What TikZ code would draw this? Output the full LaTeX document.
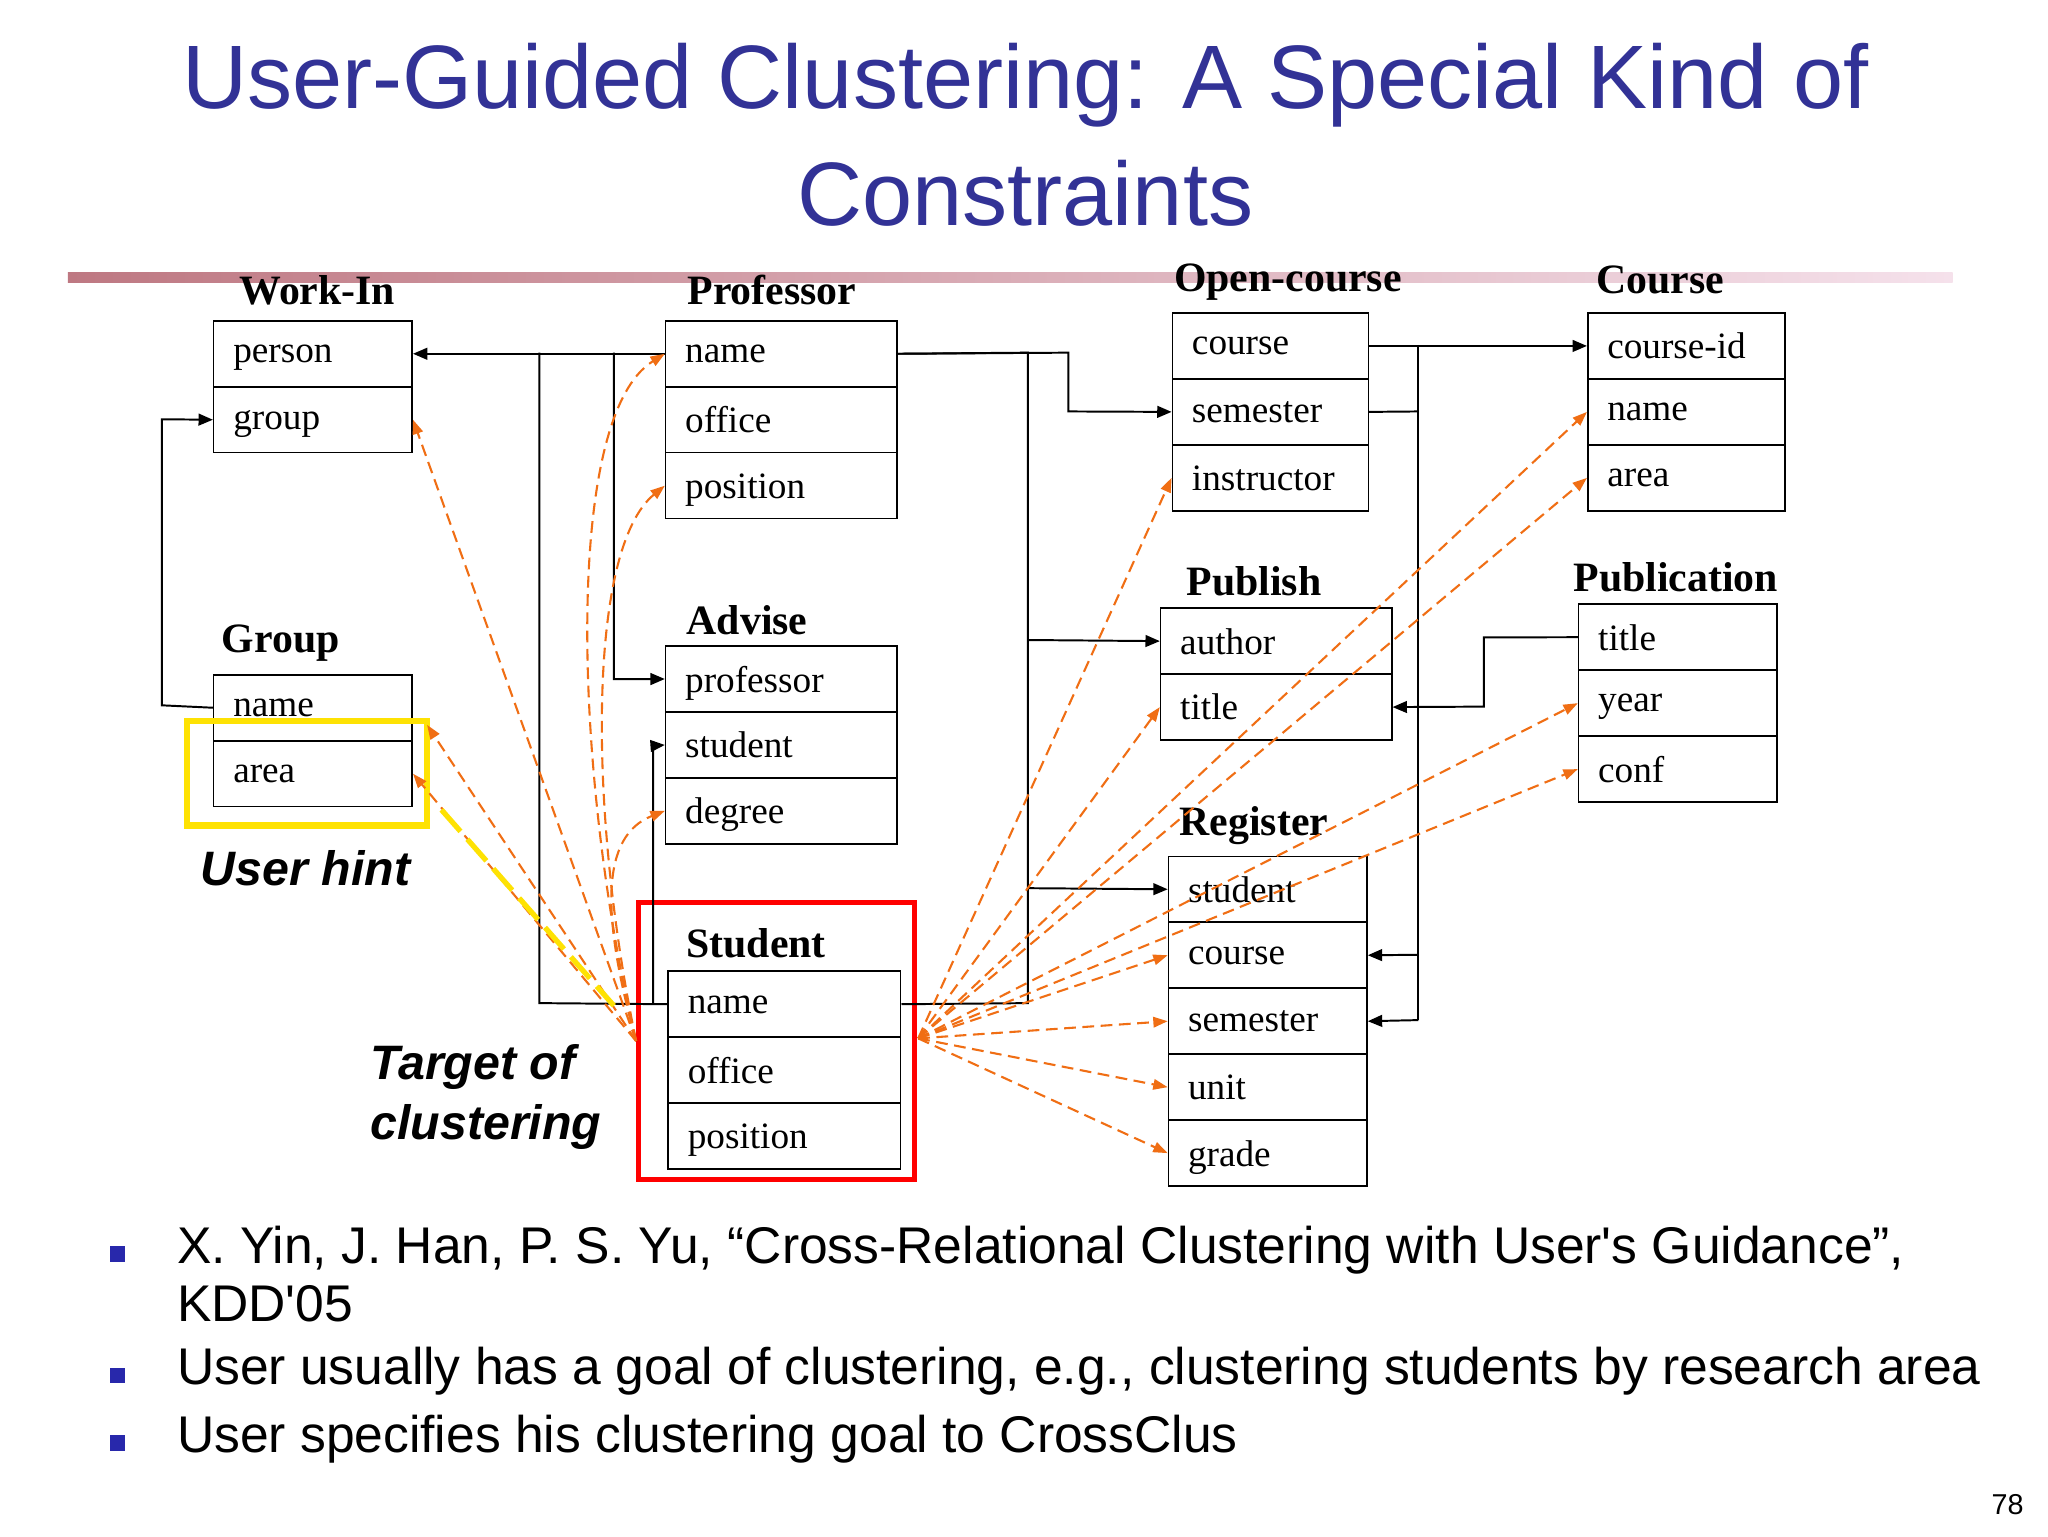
\documentclass[tikz,border=0pt]{standalone}
\usepackage{fontspec}
\setmainfont{Liberation Serif}
\newfontfamily\sans{Liberation Sans}
\usetikzlibrary{arrows.meta}
\definecolor{ttl}{RGB}{50,50,150}
\definecolor{org}{RGB}{240,110,20}
\begin{document}
\begin{tikzpicture}[x=1pt,y=-1pt,
 cell/.style={draw,line width=1.2pt,minimum height=50.5pt,anchor=north west,inner xsep=15pt,text depth=0pt,font=\fontsize{28.5}{30}\selectfont},
 hd/.style={font=\fontsize{32}{34}\selectfont\bfseries},
 blk/.style={line width=1.5pt,-{Triangle[length=11pt,width=9pt]}},
 bl/.style={line width=1.5pt},
 od/.style={org,line width=1.6pt,dash pattern=on 9pt off 5pt,-{Triangle[length=11pt,width=8pt]}},
 btxt/.style={anchor=west,font=\sans\fontsize{39.5}{42}\selectfont}]
\useasboundingbox (0,0) rectangle (1568,1176);
\fill[white] (0,0) rectangle (1568,1176);
\node[ttl,font=\sans\fontsize{69}{72}\selectfont] at (785,65) {User-Guided Clustering: A Special Kind of};
\node[ttl,font=\sans\fontsize{69}{72}\selectfont] at (785,148) {Constraints};
\shade[left color={rgb,255:red,190;green,120;blue,130},right color={rgb,255:red,245;green,225;blue,235}] (52,209) rectangle (1495,216);
\newcommand\tbl[5]{%
 \foreach \t [count=\i from 0] in {#5}{\node[cell,minimum width=#4pt,text width=#4pt-30pt] (#1\i) at (#2,#3+50.5*\i) {\t};}}
\node[hd] at (243,222) {Work-In}; \tbl{w}{163}{245}{152}{person,group}
\node[hd] at (591,222) {Professor}; \tbl{p}{509}{245}{177}{name,office,position}
\node[hd] at (986,216) {Open-course}; \tbl{o}{897}{239}{150}{course,semester,instructor}
\node[hd] at (1271,214) {Course}; \tbl{c}{1215}{239}{151}{course-id,name,area}
\node[hd] at (960,445) {Publish}; \tbl{pb}{888}{465}{177}{author,title}
\node[hd] at (1283,442) {Publication}; \tbl{pn}{1208}{462}{152}{title,year,conf}
\node[hd] at (215,492) {Group}; \tbl{g}{163}{516}{152}{name,area}
\node[hd] at (572,475) {Advise}; \tbl{a}{509}{494}{177}{professor,student,degree}
\node[hd] at (579,722) {Student}; \tbl{s}{511}{743}{178}{name,office,position}
\node[hd] at (960,632) {Register}; \tbl{r}{894}{655}{152}{student,course,semester,unit,grade}
\draw[red,line width=4pt] (489,691) rectangle (700,903);
\draw[yellow!85!orange,line width=5pt] (143,552) rectangle (327,632);
\node[font=\sans\fontsize{37}{40}\selectfont\bfseries\itshape] at (234,665) {User hint};
\node[font=\sans\fontsize{37}{46}\selectfont\bfseries\itshape,align=left] at (372,840) {Target of\\clustering};
\draw[blk] (p0.west) -- (w0.east);
\draw[bl] (413,270) -- (413,768) -- (s0.west);
\draw[blk] (470,270) -- (470,520) -- (a0.west);
\draw[blk] (500,768) -- (500,571) -- (a1.west);
\draw[blk] (g0.west) -- (124,540) -- (124,321) -- (w1.west);
\draw[blk] (p0.east) -- (818,270) -- (818,315) -- (o1.west);
\draw[bl] (p0.east) -- (787,270) -- (787,768) -- (s0.east);
\draw[blk] (787,490) -- (pb0.west);
\draw[blk] (787,680) -- (r0.west);
\draw[blk] (o0.east) -- (c0.west);
\draw[bl] (o1.east) -- (1086,315);
\draw[bl] (1086,264) -- (1086,781);
\draw[blk] (1086,731) -- (r1.east);
\draw[blk] (1086,781) -- (r2.east);
\draw[blk] (pn0.west) -- (1136,488) -- (1136,541) -- (pb1.east);
\coordinate (L) at (487,797); \coordinate (R) at (703,795);
\draw[od] (L) -- (w1.east);
\draw[od] (L) -- (327,555);
\draw[od] (L) -- (g1.east);
\draw[od] (L) .. controls (440,600) and (430,320) .. (p0.west);
\draw[od] (L) .. controls (450,620) and (450,420) .. (p2.west);
\draw[od] (L) .. controls (460,700) and (460,640) .. (a2.west);
\foreach \t in {o2.west,pb1.west,c1.west,c2.west,pn1.west,pn2.west,r1.west,r2.west,r3.west,r4.west}
 \draw[od] (R) -- (\t);
\draw[yellow!85!orange,line width=4pt,dash pattern=on 22pt off 8pt] (338,620) -- (470,770);
\foreach \y in {960,1053,1105} \fill[ttl!80!blue] (84,\y-6) rectangle (96,\y+6);
\node[btxt] at (132,957) {X. Yin, J. Han, P. S. Yu, “Cross-Relational Clustering with User's Guidance”,};
\node[btxt] at (132,998) {KDD'05};
\node[btxt] at (132,1050) {User usually has a goal of clustering, e.g., clustering students by research area};
\node[btxt] at (132,1102) {User specifies his clustering goal to CrossClus};
\node[font=\sans\fontsize{22}{24}\selectfont] at (1537,1152) {78};
\end{tikzpicture}
\end{document}
